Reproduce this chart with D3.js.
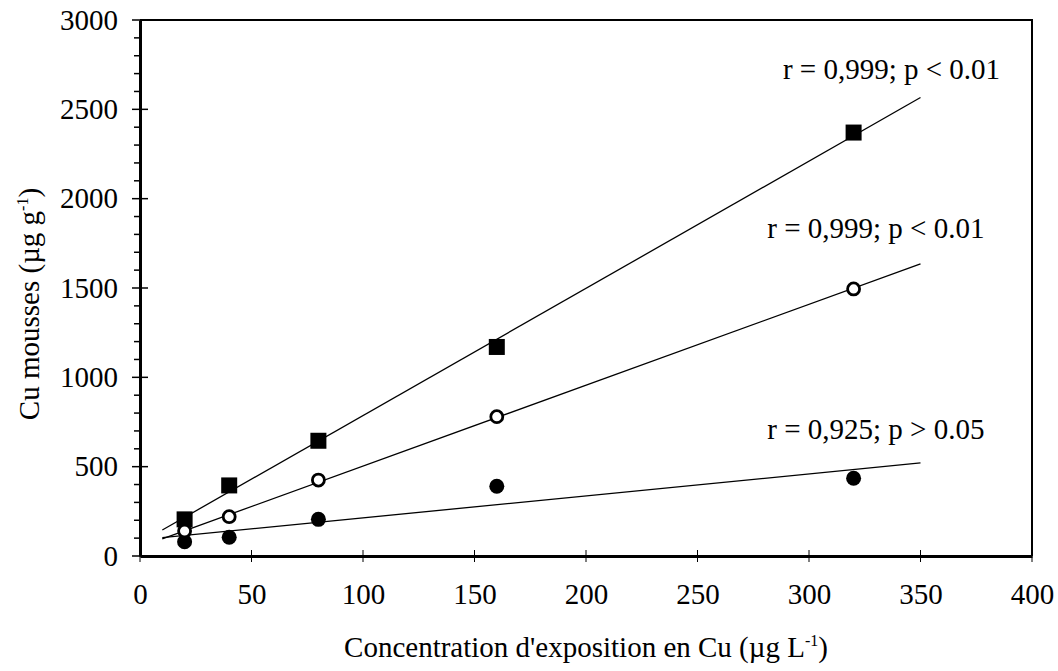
<!DOCTYPE html>
<html>
<head>
<meta charset="utf-8">
<script src="https://cdn.jsdelivr.net/npm/d3@7"></script>
<style>
  html, body { margin: 0; padding: 0; background: #fff; }
  svg text { font-family: "Liberation Serif", "Times New Roman", serif; fill: #000; }
</style>
</head>
<body>
<svg id="chart" width="1058" height="671"></svg>
<script>
// ---- data ----
const concentrations = [20, 40, 80, 160, 320];
const squaresSeries = [205, 395, 645, 1170, 2370];
const openCircleSeries = [140, 220, 425, 780, 1495];
const filledCircleSeries = [80, 105, 205, 390, 435];
const xTicks = [0, 50, 100, 150, 200, 250, 300, 350, 400];
const yTicks = [0, 500, 1000, 1500, 2000, 2500, 3000];
const fitRange = [10, 350];
const annotations = [
  { text: "r = 0,999; p < 0.01", x: 337, y: 2669 },
  { text: "r = 0,999; p < 0.01", x: 330, y: 1778 },
  { text: "r = 0,925; p > 0.05", x: 330, y: 656 }
];

(function () {
const svg = d3.select("#chart");
const mLeft = 140, mRight = 1032, mTop = 20, mBottom = 556;
const x = d3.scaleLinear().domain([0, 400]).range([mLeft, mRight]);
const y = d3.scaleLinear().domain([0, 3000]).range([mBottom, mTop]);

function fit(xs, ys) {
  const mx = d3.mean(xs), my = d3.mean(ys);
  let sxy = 0, sxx = 0;
  xs.forEach((v, i) => { sxy += (v - mx) * (ys[i] - my); sxx += (v - mx) * (v - mx); });
  const b = sxy / sxx, a = my - b * mx;
  return fitRange.map(v => [v, a + b * v]);
}

// frame (top and right)
svg.append("path")
  .attr("d", `M${mLeft},${mTop}H${mRight}V${mBottom}`)
  .attr("fill", "none").attr("stroke", "#000").attr("stroke-width", 2);

// axes
const yAxis = d3.axisLeft(y).tickValues(yTicks).tickSize(0).tickPadding(22).tickFormat(d3.format("d"));
const gy = svg.append("g").attr("transform", `translate(${mLeft},0)`).call(yAxis);
gy.select(".domain").attr("stroke", "#000").attr("stroke-width", 3);
gy.selectAll("text").style("font-size", "29px");
yTicks.forEach(t => {
  gy.append("line").attr("x1", -8).attr("x2", 8).attr("y1", y(t)).attr("y2", y(t))
    .attr("stroke", "#000").attr("stroke-width", 1.5);
});
d3.range(0, 3000, 100).filter(v => v % 500 !== 0).forEach(t => {
  gy.append("line").attr("x1", -6).attr("x2", 0).attr("y1", y(t)).attr("y2", y(t))
    .attr("stroke", "#000").attr("stroke-width", 1.5);
});

const xAxis = d3.axisBottom(x).tickValues(xTicks).tickSize(0).tickPadding(27).tickFormat(d3.format("d"));
const gx = svg.append("g").attr("transform", `translate(0,${mBottom})`).call(xAxis);
gx.select(".domain").attr("stroke", "#000").attr("stroke-width", 3);
gx.selectAll("text").style("font-size", "29px");
xTicks.forEach(t => {
  gx.append("line").attr("x1", x(t)).attr("x2", x(t)).attr("y1", -6).attr("y2", 6)
    .attr("stroke", "#000").attr("stroke-width", 1);
});

// fit lines
const line = d3.line().x(d => x(d[0])).y(d => y(d[1]));
[squaresSeries, openCircleSeries, filledCircleSeries].forEach(s => {
  svg.append("path").datum(fit(concentrations, s)).attr("d", line)
    .attr("fill", "none").attr("stroke", "#000").attr("stroke-width", 1.3);
});

// markers
svg.append("g").selectAll("rect").data(concentrations).join("rect")
  .attr("x", (d) => x(d) - 8).attr("y", (d, i) => y(squaresSeries[i]) - 8)
  .attr("width", 16).attr("height", 16).attr("fill", "#000");
svg.append("g").selectAll("circle").data(concentrations).join("circle")
  .attr("cx", d => x(d)).attr("cy", (d, i) => y(filledCircleSeries[i]))
  .attr("r", 7.5).attr("fill", "#000");
svg.append("g").selectAll("circle").data(concentrations).join("circle")
  .attr("cx", d => x(d)).attr("cy", (d, i) => y(openCircleSeries[i]))
  .attr("r", 6).attr("fill", "#fff").attr("stroke", "#000").attr("stroke-width", 2.8);

// annotations
svg.append("g").selectAll("text").data(annotations).join("text")
  .attr("x", d => x(d.x)).attr("y", d => y(d.y))
  .attr("text-anchor", "middle").style("font-size", "29px")
  .text(d => d.text);

// axis titles
const xt = svg.append("text").attr("x", 586).attr("y", 657).attr("text-anchor", "middle").style("font-size", "29px");
xt.append("tspan").text("Concentration d'exposition en Cu (µg L");
xt.append("tspan").attr("dy", -11).style("font-size", "16px").text("-1");
xt.append("tspan").attr("dy", 11).text(")");

const yt = svg.append("text").attr("transform", "translate(39,304) rotate(-90)").attr("text-anchor", "middle").style("font-size", "29px");
yt.append("tspan").text("Cu mousses (µg g");
yt.append("tspan").attr("dy", -11).style("font-size", "16px").text("-1");
yt.append("tspan").attr("dy", 11).text(")");
})();
</script>
</body>
</html>
